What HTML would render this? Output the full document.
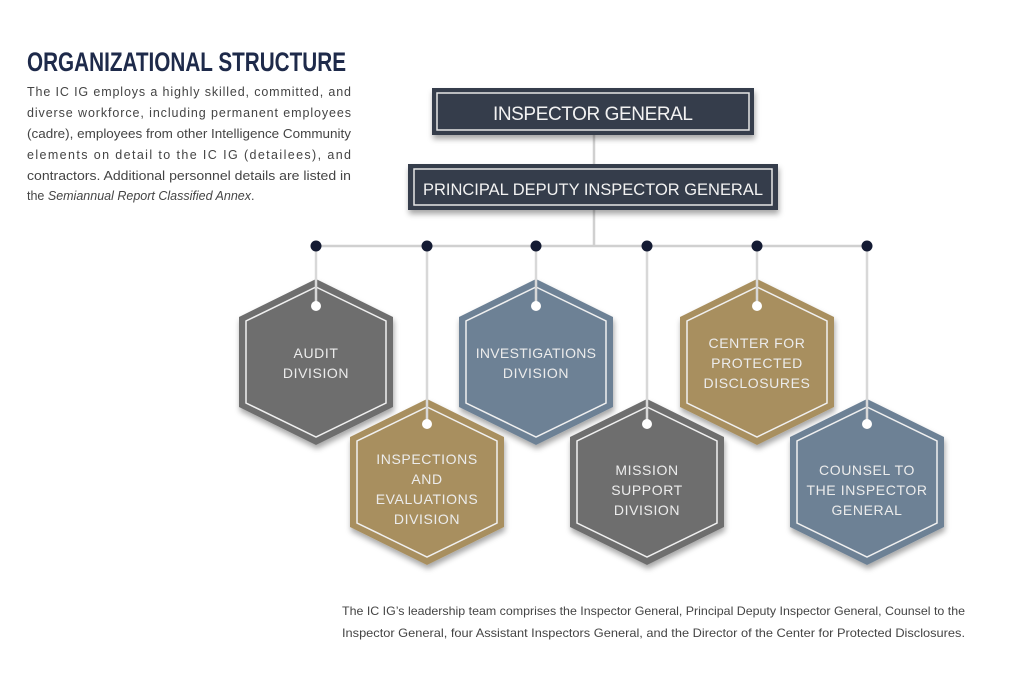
<!DOCTYPE html>
<html><head><meta charset="utf-8"><style>
html,body{margin:0;padding:0;background:#fff;}
body{width:1024px;height:697px;position:relative;overflow:hidden;font-family:"Liberation Sans",sans-serif;}
</style></head><body>
<svg width="1024" height="697" viewBox="0 0 1024 697" xmlns="http://www.w3.org/2000/svg" style="position:absolute;left:0;top:0">
<defs>
<filter id="sh" x="-20%" y="-20%" width="140%" height="150%"><feDropShadow dx="1" dy="4" stdDeviation="3" flood-color="#000" flood-opacity="0.35"/></filter>
</defs>
<g font-family="Liberation Sans, sans-serif">
<text x="27" y="71" font-size="27" font-weight="bold" fill="#1e2a4a" textLength="319" lengthAdjust="spacingAndGlyphs">ORGANIZATIONAL STRUCTURE</text>
<g font-size="12.5" fill="#444">
<text x="27" y="96" textLength="324" lengthAdjust="spacing">The IC IG employs a highly skilled, committed, and</text>
<text x="27" y="117" textLength="324" lengthAdjust="spacing">diverse workforce, including permanent employees</text>
<text x="27" y="138" textLength="324" lengthAdjust="spacingAndGlyphs">(cadre), employees from other Intelligence Community</text>
<text x="27" y="159" textLength="324" lengthAdjust="spacing">elements on detail to the IC IG (detailees), and</text>
<text x="27" y="180" textLength="324" lengthAdjust="spacingAndGlyphs">contractors. Additional personnel details are listed in</text>
<text x="27" y="200">the <tspan font-style="italic">Semiannual Report Classified Annex</tspan>.</text>
</g>
</g>
<g stroke="#d0d0d0" stroke-width="2.5" fill="none">
<line x1="594" y1="135" x2="594" y2="246"/>
<line x1="316" y1="246" x2="867" y2="246"/>
</g>
<rect x="432" y="88" width="322" height="47" fill="#343c4b" filter="url(#sh)"/>
<rect x="437" y="93" width="312" height="37" fill="none" stroke="#e6e6e6" stroke-width="1.5"/>
<text x="593" y="120" font-size="19" fill="#f2f2f2" text-anchor="middle" font-family="Liberation Sans, sans-serif" textLength="200" lengthAdjust="spacing">INSPECTOR GENERAL</text>
<rect x="408" y="164" width="370" height="46" fill="#343c4b" filter="url(#sh)"/>
<rect x="414" y="169" width="358" height="36" fill="none" stroke="#e6e6e6" stroke-width="1.5"/>
<text x="593" y="195" font-size="16.5" fill="#f2f2f2" text-anchor="middle" font-family="Liberation Sans, sans-serif" textLength="340" lengthAdjust="spacingAndGlyphs">PRINCIPAL DEPUTY INSPECTOR GENERAL</text>

<g font-family="Liberation Sans, sans-serif" font-size="14" fill="#ececec" text-anchor="middle">
<g transform="translate(316,362)">
<polygon points="0,-83 77,-45 77,45 0,83 -77,45 -77,-45" fill="#6e6e6e" filter="url(#sh)"/>
<polygon points="0,-75 70,-41 70,41 0,75 -70,41 -70,-41" fill="none" stroke="#f0f0f0" stroke-width="1.5"/>
<line x1="0" y1="-116" x2="0" y2="-58" stroke="#d8d8d8" stroke-width="2.5"/>
<circle cx="0" cy="-56" r="5" fill="#fff"/>
<text y="-4" letter-spacing="0.6">AUDIT</text><text y="16" letter-spacing="0.6">DIVISION</text>
</g>
<g transform="translate(536,362)">
<polygon points="0,-83 77,-45 77,45 0,83 -77,45 -77,-45" fill="#6d8195" filter="url(#sh)"/>
<polygon points="0,-75 70,-41 70,41 0,75 -70,41 -70,-41" fill="none" stroke="#f0f0f0" stroke-width="1.5"/>
<line x1="0" y1="-116" x2="0" y2="-58" stroke="#d8d8d8" stroke-width="2.5"/>
<circle cx="0" cy="-56" r="5" fill="#fff"/>
<text y="-4" letter-spacing="0.3">INVESTIGATIONS</text><text y="16" letter-spacing="0.6">DIVISION</text>
</g>
<g transform="translate(757,362)">
<polygon points="0,-83 77,-45 77,45 0,83 -77,45 -77,-45" fill="#a88f5e" filter="url(#sh)"/>
<polygon points="0,-75 70,-41 70,41 0,75 -70,41 -70,-41" fill="none" stroke="#f0f0f0" stroke-width="1.5"/>
<line x1="0" y1="-116" x2="0" y2="-58" stroke="#d8d8d8" stroke-width="2.5"/>
<circle cx="0" cy="-56" r="5" fill="#fff"/>
<text y="-14" letter-spacing="0.6">CENTER FOR</text><text y="6" letter-spacing="0.6">PROTECTED</text><text y="26" letter-spacing="0.6">DISCLOSURES</text>
</g>
<g transform="translate(427,482)">
<polygon points="0,-83 77,-45 77,45 0,83 -77,45 -77,-45" fill="#a88f5e" filter="url(#sh)"/>
<polygon points="0,-75 70,-41 70,41 0,75 -70,41 -70,-41" fill="none" stroke="#f0f0f0" stroke-width="1.5"/>
<line x1="0" y1="-236" x2="0" y2="-60" stroke="#d8d8d8" stroke-width="2.5"/>
<circle cx="0" cy="-58" r="5" fill="#fff"/>
<text y="-18" letter-spacing="0.6">INSPECTIONS</text><text y="2" letter-spacing="0.6">AND</text><text y="22" letter-spacing="0.6">EVALUATIONS</text><text y="42" letter-spacing="0.6">DIVISION</text>
</g>
<g transform="translate(647,482)">
<polygon points="0,-83 77,-45 77,45 0,83 -77,45 -77,-45" fill="#6e6e6e" filter="url(#sh)"/>
<polygon points="0,-75 70,-41 70,41 0,75 -70,41 -70,-41" fill="none" stroke="#f0f0f0" stroke-width="1.5"/>
<line x1="0" y1="-236" x2="0" y2="-60" stroke="#d8d8d8" stroke-width="2.5"/>
<circle cx="0" cy="-58" r="5" fill="#fff"/>
<text y="-7" letter-spacing="0.6">MISSION</text><text y="13" letter-spacing="0.6">SUPPORT</text><text y="33" letter-spacing="0.6">DIVISION</text>
</g>
<g transform="translate(867,482)">
<polygon points="0,-83 77,-45 77,45 0,83 -77,45 -77,-45" fill="#6d8195" filter="url(#sh)"/>
<polygon points="0,-75 70,-41 70,41 0,75 -70,41 -70,-41" fill="none" stroke="#f0f0f0" stroke-width="1.5"/>
<line x1="0" y1="-236" x2="0" y2="-60" stroke="#d8d8d8" stroke-width="2.5"/>
<circle cx="0" cy="-58" r="5" fill="#fff"/>
<text y="-7" letter-spacing="0.6">COUNSEL TO</text><text y="13" letter-spacing="0.6">THE INSPECTOR</text><text y="33" letter-spacing="0.6">GENERAL</text>
</g>
</g>
<g fill="#141b33">
<circle cx="316" cy="246" r="5.5"/><circle cx="427" cy="246" r="5.5"/><circle cx="536" cy="246" r="5.5"/>
<circle cx="647" cy="246" r="5.5"/><circle cx="757" cy="246" r="5.5"/><circle cx="867" cy="246" r="5.5"/>
</g>
<g font-family="Liberation Sans, sans-serif" font-size="12" fill="#444">
<text x="342" y="615" textLength="623" lengthAdjust="spacingAndGlyphs">The IC IG’s leadership team comprises the Inspector General, Principal Deputy Inspector General, Counsel to the</text>
<text x="342" y="637" textLength="623" lengthAdjust="spacingAndGlyphs">Inspector General, four Assistant Inspectors General, and the Director of the Center for Protected Disclosures.</text>
</g>
</svg>
</body></html>
